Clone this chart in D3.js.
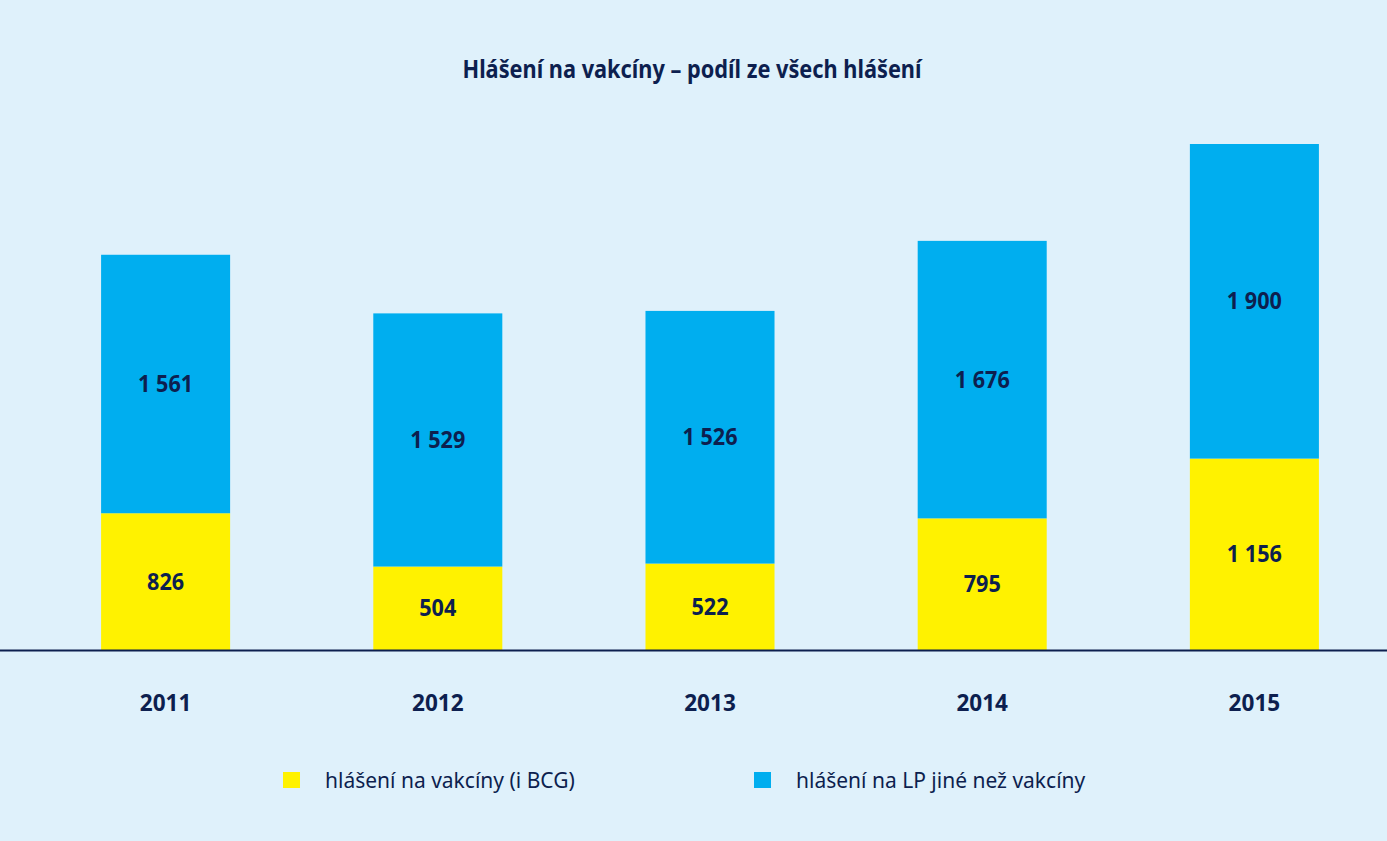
<!DOCTYPE html>
<html lang="cs">
<head>
    <meta charset="UTF-8">
    <title>Hlášení na vakcíny – podíl ze všech hlášení</title>
    <style>
        html, body { margin: 0; padding: 0; background: #dff1fb; }
        svg { display: block; }
        text { font-family: "Noto Sans", sans-serif; fill: #0d1f4f; }
        .title { font-size: 25px; font-weight: bold; }
        .val { font-size: 23px; font-weight: bold; }
        .year { font-size: 23px; font-weight: bold; }
        .legend text { font-size: 21px; }
    </style>
</head>
<body>
    <div id="chart"></div>
    <script src="https://d3js.org/d3.v7.min.js"></script>
    <script>
        const years = ["2011", "2012", "2013", "2014", "2015"];
        const vaccines = [826, 504, 522, 795, 1156];
        const otherDrugs = [1561, 1529, 1526, 1676, 1900];
        const seriesNames = ["hlášení na vakcíny (i BCG)", "hlášení na LP jiné než vakcíny"];
        const seriesColors = ["#fff200", "#00aeef"];

        const width = 1387, height = 841;
        const baseY = 650;

        const svg = d3.select("#chart").append("svg")
            .attr("width", width)
            .attr("height", height);

        svg.append("rect").attr("width", width).attr("height", height).attr("fill", "#dff1fb");

        const x = d3.scaleBand()
            .domain(years)
            .range([29.5, 1390.5])
            .paddingInner(0.526)
            .paddingOuter(0.263);

        const y = d3.scaleLinear()
            .domain([0, 3056])
            .range([baseY, 144]);

        const rows = years.map((yr, i) => ({ year: yr, vaccines: vaccines[i], other: otherDrugs[i] }));
        const stacked = d3.stack().keys(["vaccines", "other"])(rows);

        // the source font is a bit narrower than Noto Sans
        function squeezed(sel, cx, cy, k) {
            sel.attr("transform", `translate(${cx},${cy}) scale(${k},1)`)
                .attr("text-anchor", "middle");
        }

        svg.append("text").attr("class", "title")
            .call(squeezed, 692, 78, 0.87)
            .text("Hlášení na vakcíny – podíl ze všech hlášení");

        const layers = svg.selectAll(".layer")
            .data(stacked)
            .join("g")
            .attr("class", "layer")
            .attr("fill", (d, i) => seriesColors[i]);

        layers.selectAll("rect")
            .data(d => d)
            .join("rect")
            .attr("x", d => x(d.data.year))
            .attr("width", x.bandwidth())
            .attr("y", d => y(d[1]))
            .attr("height", d => y(d[0]) - y(d[1]));

        const fmt = v => d3.format(",")(v).replace(/,/g, " ");

        layers.selectAll(".val")
            .data(d => d)
            .join("text")
            .attr("class", "val")
            .each(function (d) {
                const cx = x(d.data.year) + x.bandwidth() / 2;
                const cy = (y(d[0]) + y(d[1])) / 2 + 8;
                d3.select(this).call(squeezed, cx, cy, 0.94);
            })
            .text(d => fmt(d[1] - d[0]));

        // baseline
        svg.append("line")
            .attr("x1", 0).attr("x2", width)
            .attr("y1", baseY + 0.5).attr("y2", baseY + 0.5)
            .attr("stroke", "#0d1f4f").attr("stroke-width", 2);

        svg.selectAll(".year")
            .data(years)
            .join("text")
            .attr("class", "year")
            .each(function (d) {
                d3.select(this).call(squeezed, x(d) + x.bandwidth() / 2, 711, 0.98);
            })
            .text(d => d);

        // legend
        const legendX = [283, 754];
        const legend = svg.append("g").attr("class", "legend");
        seriesNames.forEach((name, i) => {
            legend.append("rect")
                .attr("x", legendX[i]).attr("y", 772)
                .attr("width", 17).attr("height", 16)
                .attr("fill", seriesColors[i]);
            legend.append("text")
                .attr("x", legendX[i] + 42).attr("y", 788)
                .text(name);
        });
    </script>
</body>
</html>
